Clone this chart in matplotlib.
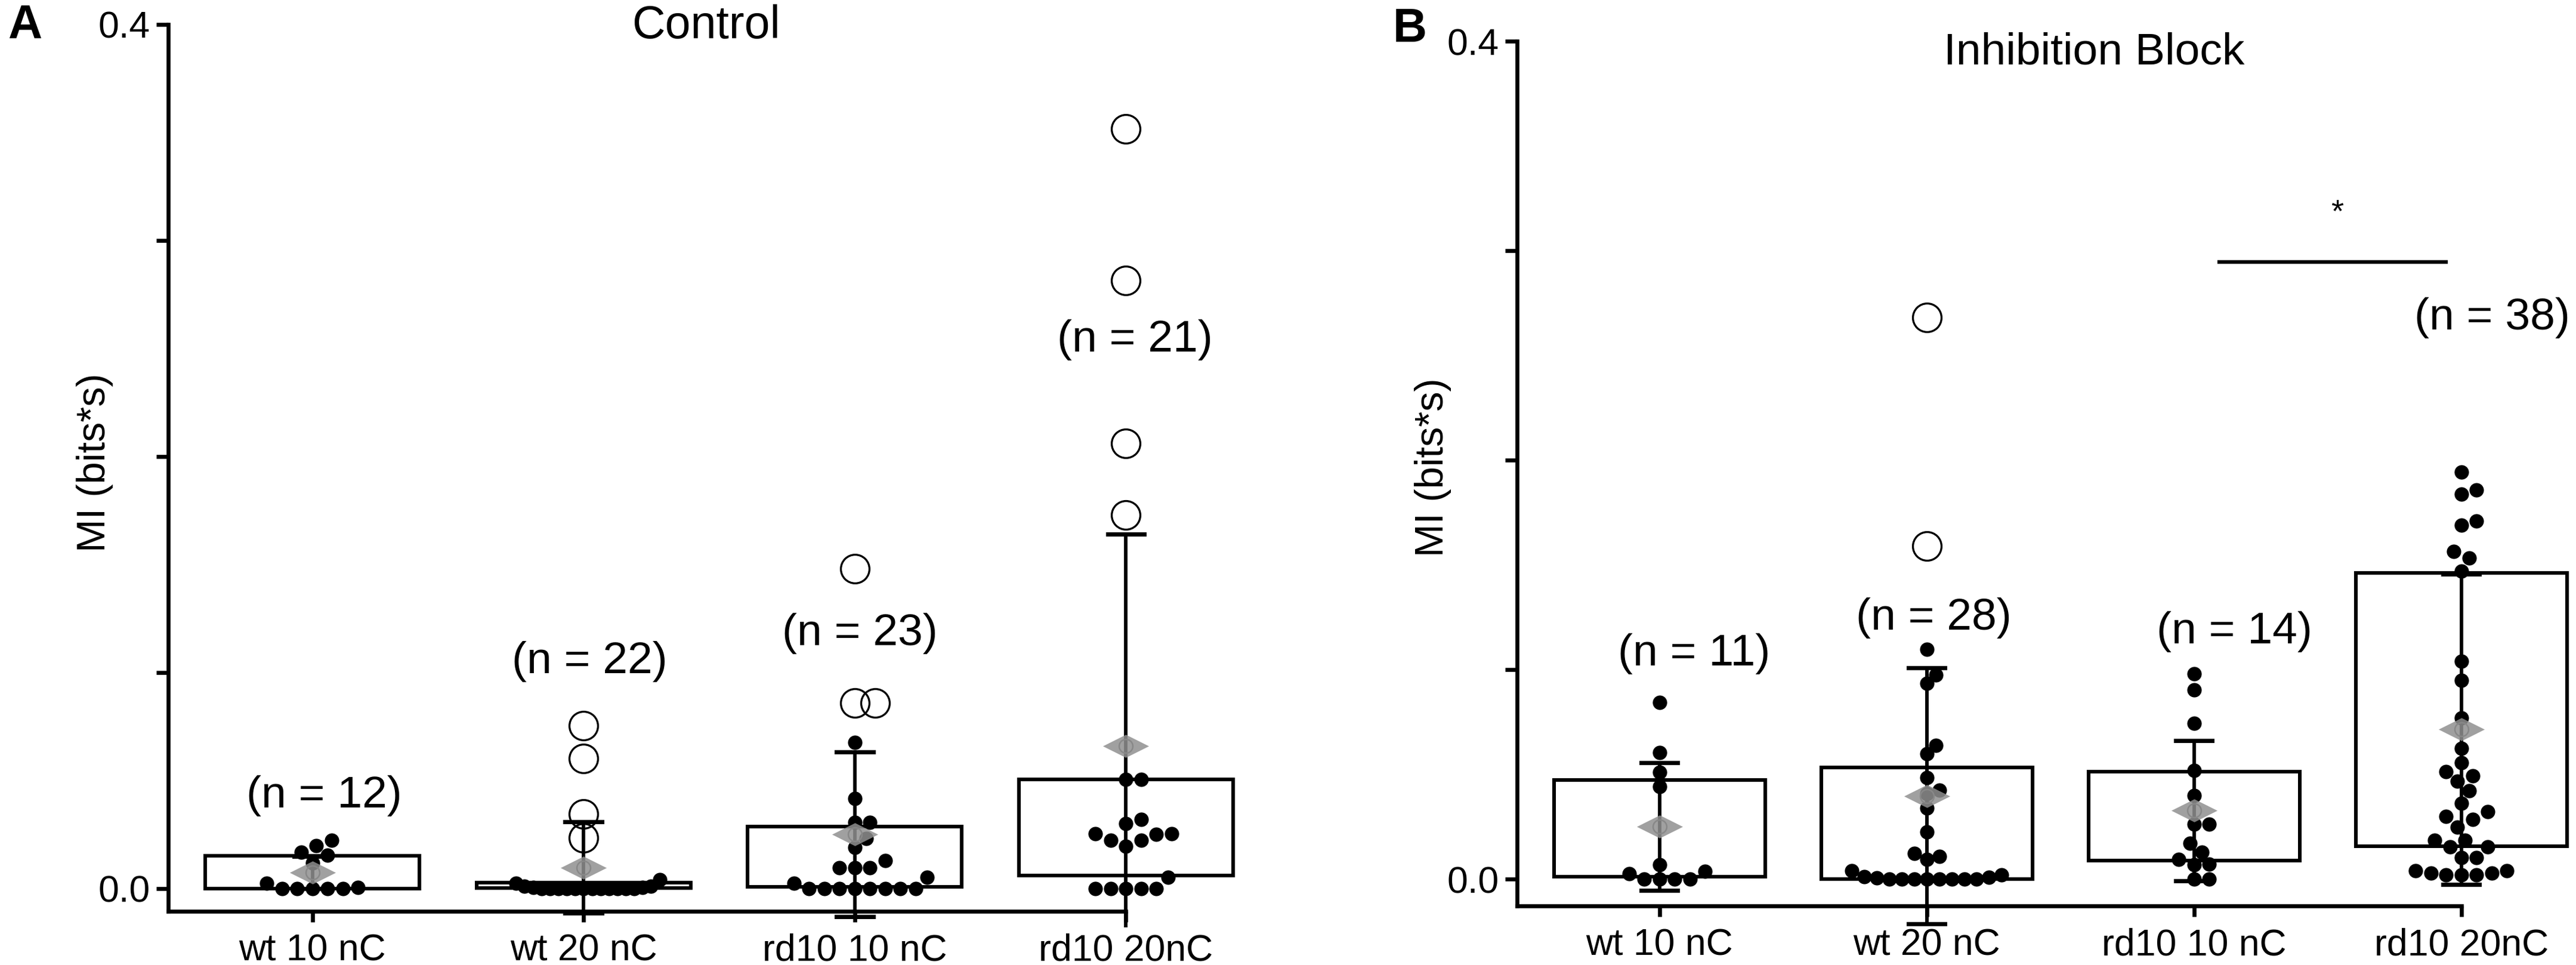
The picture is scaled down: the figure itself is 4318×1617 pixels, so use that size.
import numpy as np
import matplotlib
matplotlib.use('Agg')
import matplotlib.pyplot as plt
from matplotlib.patches import Rectangle
from matplotlib.path import Path

plt.rcParams['font.family'] = ['Liberation Sans', 'DejaVu Sans']

groups = ['wt 10 nC', 'wt 20 nC', 'rd10 10 nC', 'rd10 20nC']

# Control
ctrl_wt10 = [0.0, 0.0, 0.0, 0.0, 0.0, 0.0005, 0.0025, 0.0119, 0.0155, 0.0169, 0.0199, 0.0224]
ctrl_wt20 = [0.0, 0.0, 0.0, 0.0, 0.0, 0.0, 0.0, 0.0, 0.0, 0.0, 0.0, 0.0,
             0.0005, 0.0005, 0.001, 0.001, 0.0025, 0.004]
ctrl_wt20_out = [0.0235, 0.0345, 0.0602, 0.0754]
ctrl_rd10 = [0.0677, 0.0417, 0.0307, 0.0307, 0.0232, 0.019, 0.013, 0.0097, 0.0097, 0.0097,
             0.0052, 0.0025, 0.0, 0.0, 0.0, 0.0, 0.0, 0.0, 0.0, 0.0]
ctrl_rd10_out = [0.148, 0.0859, 0.0859]
ctrl_rd20 = [0.0505, 0.0505, 0.032, 0.030, 0.0254, 0.0254, 0.025, 0.0224, 0.0224, 0.0196,
             0.0052, 0.0, 0.0, 0.0, 0.0, 0.0]
ctrl_rd20_out = [0.3517, 0.2815, 0.206, 0.173]
ctrl_box_lo = [0.0, 0.0003, 0.0008, 0.006]
ctrl_box_hi = [0.0152, 0.0028, 0.0287, 0.0505]
ctrl_mean = [0.0075, 0.0097, 0.0251, 0.066]
ctrl_sd = [0.0075, 0.0212, 0.038, 0.098]
ctrl_n = [12, 22, 23, 21]

# Inhibition block
inh_wt10 = [0.0843, 0.0604, 0.051, 0.0442, 0.0068, 0.0026, 0.0037, 0.0, 0.0, 0.0, 0.0]
inh_wt20 = [0.1097, 0.0934, 0.0974, 0.0598, 0.064, 0.0484, 0.0424, 0.0407, 0.0339, 0.0225,
            0.0122, 0.0094, 0.0108, 0.004, 0.0011, 0.001, 0.0005, 0.002,
            0.0, 0.0, 0.0, 0.0, 0.0, 0.0, 0.0, 0.0]
inh_wt20_out = [0.268, 0.159]
inh_rd10 = [0.098, 0.0903, 0.0744, 0.0519, 0.0399, 0.0262, 0.0262, 0.0171, 0.013, 0.007,
            0.0094, 0.0073, 0.0, 0.0]
inh_rd20 = [0.1943, 0.1838, 0.1858, 0.169, 0.171, 0.1564, 0.1533, 0.147, 0.104, 0.0949,
            0.077, 0.0624, 0.0556, 0.0513, 0.0493, 0.0467, 0.0422, 0.0362, 0.0322, 0.0285,
            0.0299, 0.0248, 0.0185, 0.0185, 0.0154, 0.0154, 0.0103, 0.0103,
            0.004, 0.003, 0.002, 0.002, 0.002, 0.003, 0.004]
inh_box_lo = [0.0011, 0.0, 0.0088, 0.0157]
inh_box_hi = [0.0473, 0.0533, 0.0512, 0.1462]
inh_mean = [0.0251, 0.0398, 0.0327, 0.0715]
inh_sd = [0.0305, 0.061, 0.0334, 0.074]
inh_n = [11, 28, 14, 38]

diamond = Path([(-1, 0), (0, 0.5), (1, 0), (0, -0.5), (-1, 0)],
               [Path.MOVETO, Path.LINETO, Path.LINETO, Path.LINETO, Path.CLOSEPOLY])


def swarm(ax, vals, diam, max_half):
    # simple beeswarm in pixel space
    vals = np.asarray(vals, float)
    if len(vals) == 0:
        return vals
    tr = ax.transData.transform
    ypx = tr(np.column_stack([np.ones(len(vals)), vals]))[:, 1]
    xs = tr((1, 0))[0] - tr((0, 0))[0]
    steps = np.arange(0, 60) * diam / 4
    cands = sorted(np.concatenate([steps, -steps[1:]]), key=abs)
    px, py = [], []
    off = np.zeros(len(vals))
    for i in np.argsort(ypx, kind='stable'):
        for c in cands:
            if all((c - a) ** 2 + (ypx[i] - b) ** 2 >= (0.92 * diam) ** 2 for a, b in zip(px, py)):
                break
        off[i] = c
        px.append(c)
        py.append(ypx[i])
    w = np.abs(off).max()
    if w > max_half * xs:
        off = off * max_half * xs / w
    return off / xs


def draw_panel(ax, dots, outs, lo, hi, mean, sd, n, xlim, ylim, xaxis_y, n_pos):
    ax.set_xlim(*xlim)
    ax.set_ylim(*ylim)
    for i in range(4):
        x = i + 1
        ax.add_patch(Rectangle((x - 0.395, lo[i]), 0.79, hi[i] - lo[i], fill=False,
                               ec='black', lw=1.45, zorder=2))
        top = mean[i] + sd[i]
        bot = mean[i] - sd[i]
        ax.plot([x, x], [bot, top], color='black', lw=1.4, zorder=2.5)
        ax.plot([x - 0.068, x + 0.068], [top, top], color='black', lw=1.7, zorder=2.5)
        ax.plot([x - 0.068, x + 0.068], [bot, bot], color='black', lw=1.7, zorder=2.5)
        off = swarm(ax, dots[i], 25.5, 0.28)
        ax.plot(x + off, dots[i], 'o', ms=5.8, color='black', mew=0, zorder=3, clip_on=False)
        if len(outs[i]):
            off = swarm(ax, outs[i], 34, 0.3)
            ax.plot(x + off, outs[i], 'o', ms=11.5, mfc='none', mec='black', mew=0.8,
                    zorder=3, clip_on=False)
        ax.plot(x, mean[i], 'o', ms=5.5, mfc='none', mec='#666666', mew=0.6, zorder=3.5)
        ax.plot(x, mean[i], marker=diamond, ms=18.5, color='#8f8f8f', alpha=0.85,
                mew=0, ls='none', zorder=4)
        ax.text(n_pos[i][0], n_pos[i][1], '(n = %d)' % n[i], fontsize=18,
                ha='center', va='center')

    for s in ['top', 'right']:
        ax.spines[s].set_visible(False)
    ax.spines['bottom'].set_position(('data', xaxis_y))
    ax.spines['bottom'].set_bounds(xlim[0], 4)
    ax.spines['left'].set_bounds(xaxis_y, 0.4)
    for s in ['bottom', 'left']:
        ax.spines[s].set_linewidth(1.6)
    ax.set_xticks([1, 2, 3, 4])
    ax.set_xticklabels(groups)
    ax.set_yticks([0, 0.1, 0.2, 0.3, 0.4])
    ax.set_yticklabels(['0.0', '', '', '', '0.4'])
    ax.tick_params(axis='x', length=4.3, width=1.6, pad=4.5, labelsize=15)
    ax.tick_params(axis='y', length=4.8, width=1.6, pad=2.4, labelsize=15)
    ax.set_ylabel('MI (bits*s)', fontsize=16)


fig = plt.figure(figsize=(4318 / 300, 1617 / 300), dpi=300)
axA = fig.add_axes([282 / 4318, 63 / 1617, 1810 / 4318, 1513 / 1617])
axB = fig.add_axes([2543 / 4318, 56 / 1617, 1771 / 4318, 1492 / 1617])

draw_panel(axA,
           [ctrl_wt10, ctrl_wt20, ctrl_rd10, ctrl_rd20],
           [[], ctrl_wt20_out, ctrl_rd10_out, ctrl_rd20_out],
           ctrl_box_lo, ctrl_box_hi, ctrl_mean, ctrl_sd, ctrl_n,
           (0.468, 4.45), (-0.018, 0.4), -0.0105,
           [(1.044, 0.043), (2.022, 0.105), (3.018, 0.118), (4.032, 0.254)])
axA.yaxis.set_label_coords(-0.051, 0.515)
axA.text(2.452, 0.3936, 'Control', fontsize=18.5, ha='center', va='baseline')

draw_panel(axB,
           [inh_wt10, inh_wt20, inh_rd10, inh_rd20],
           [[], inh_wt20_out, [], []],
           inh_box_lo, inh_box_hi, inh_mean, inh_sd, inh_n,
           (0.467, 4.42), (-0.025, 0.4), -0.0128,
           [(1.13, 0.1077), (2.025, 0.1248), (3.15, 0.118), (4.116, 0.268)])
axB.yaxis.set_label_coords(-0.062, 0.521)
axB.text(2.625, 0.389, 'Inhibition Block', fontsize=18, ha='center', va='baseline')

# significance bar
axB.plot([3.094, 3.942], [0.2946, 0.2946], color='black', lw=1.5)
axB.text(3.536, 0.318, '*', fontsize=13, ha='center', va='center')

fig.text(42 / 4318, 1 - 43 / 1617, 'A', fontsize=19, fontweight='bold', ha='center', va='center')
fig.text(2363 / 4318, 1 - 50 / 1617, 'B', fontsize=19, fontweight='bold', ha='center', va='center')

fig.savefig('out.png', dpi=300)
